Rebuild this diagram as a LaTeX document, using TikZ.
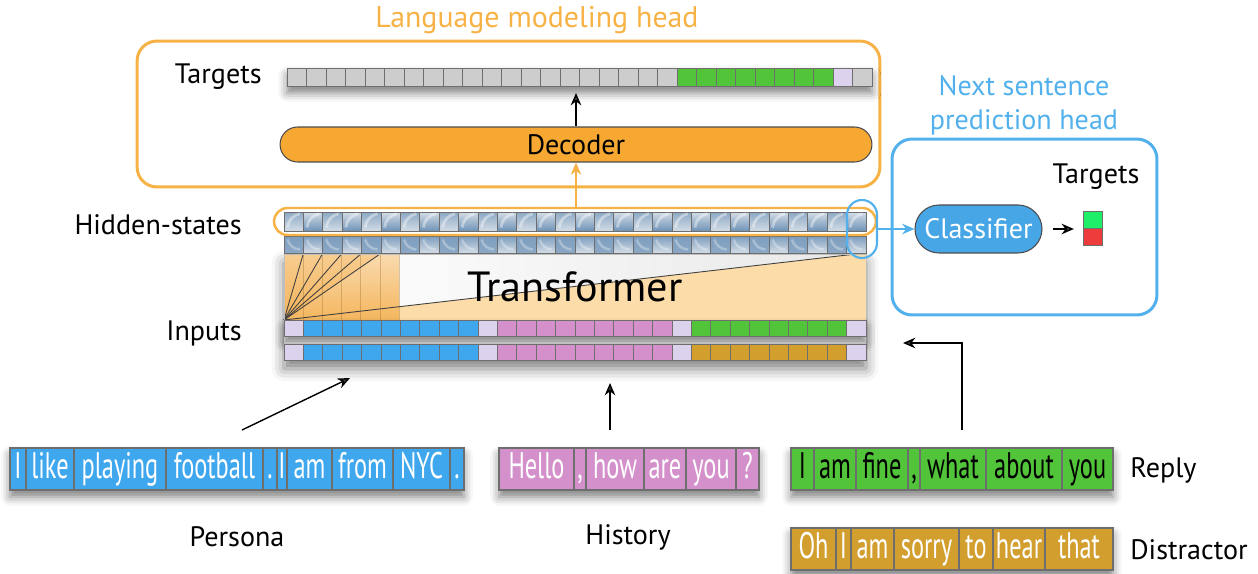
\documentclass[tikz,border=0pt]{standalone}
\usepackage{fontspec}
\setmainfont{PT Sans}
\usetikzlibrary{positioning,arrows.meta,shadows.blur,calc}

\definecolor{lmorange}{HTML}{F6B245}
\definecolor{decorange}{HTML}{F6A833}
\definecolor{nspblue}{HTML}{52B1EC}
\definecolor{clsblue}{HTML}{47A6E6}
\definecolor{tokblue}{HTML}{3FA7EE}
\definecolor{tokpink}{HTML}{D490CB}
\definecolor{tokgreen}{HTML}{52C43A}
\definecolor{tokgold}{HTML}{D29E2E}
\definecolor{toksep}{HTML}{DDD2EE}
\definecolor{tokgray}{HTML}{CDCDCD}
\definecolor{hidblue}{HTML}{6F93B7}
\definecolor{hidlight}{HTML}{D3DCE5}
\definecolor{tfpale}{HTML}{FCDCA8}
\definecolor{tfcol}{HTML}{F3AE4C}
\definecolor{cellline}{HTML}{6E6E6E}
\definecolor{yesgreen}{HTML}{1FEE68}
\definecolor{nored}{HTML}{EE3B3B}

\newcommand\cond[1]{\scalebox{0.66}[1]{#1}}

\tikzset{
  lbl/.style={font=\fontsize{16}{19}\selectfont, inner sep=0pt},
  cell/.style={draw=cellline, line width=0.4pt, inner sep=0pt, outer sep=0pt,
               minimum width=0.388cm, minimum height=#1},
  cell/.default=0.32cm,
  tok/.style={draw=cellline, line width=0.6pt, inner sep=0pt, outer sep=0pt,
              minimum height=0.84cm, text height=15pt, text depth=4.5pt,
              font=\fontsize{21}{21}\selectfont},
  pill/.style={draw=black!70, line width=0.6pt, rounded corners=0.35cm,
               font=\fontsize{16}{19}\selectfont},
  headbox/.style={draw=#1, line width=1.7pt, rounded corners=0.4cm},
  rowshadow/.style={blur shadow={shadow xshift=0pt, shadow yshift=-4pt,
                    shadow blur radius=5pt, shadow opacity=50}},
}

\begin{document}
\begin{tikzpicture}[x=0.02cm, y=-0.02cm, >={Stealth[length=7pt,width=6pt]}]
\useasboundingbox (0,0) rectangle (1258,574);

% language modeling head
\node[headbox=lmorange, minimum width=14.86cm, minimum height=2.92cm] (lmhead) at (508.5,114) {};
\node[lbl, text=lmorange, font=\fontsize{17}{20}\selectfont] (lmtitle) at (537,20) {Language modeling head};

\fill[white, rowshadow] (287,68) rectangle (872,86);
\foreach \i in {0,...,29}{
  \ifnum\i<20 \def\c{tokgray}\else\ifnum\i<28 \def\c{tokgreen}\else\ifnum\i=28 \def\c{toksep}\else\def\c{tokgray}\fi\fi\fi
  \node[cell=0.36cm, minimum width=0.39cm, fill=\c] (t\i) at ({296.75+19.5*\i},77) {};
}
\node[lbl, left=0.5cm of t0] (lmtargets) {Targets};

\node[pill, fill=decorange, minimum width=11.84cm, minimum height=0.7cm] (decoder) at (576,144.5) {Decoder};
\draw[->, line width=0.8pt, shorten >=4pt] (decoder.north) -- (decoder.north |- t0.south);

% next sentence prediction head
\node[headbox=nspblue, minimum width=5.3cm, minimum height=3.52cm] (nsphead) at (1024.5,227) {};
\node[lbl, text=nspblue, align=center, font=\fontsize{16}{19.5}\selectfont] (nsptitle) at (1024,105) {Next sentence\\prediction head};
\node[lbl] (nsptargets) at (1096,177) {Targets};
\node[pill, fill=clsblue, text=white, minimum width=2.54cm, minimum height=0.96cm, rounded corners=0.48cm] (classifier) at (978.5,229) {Classifier};
\node[draw=cellline, fill=yesgreen, minimum width=0.38cm, minimum height=0.34cm, inner sep=0pt] (yes) at (1092.5,219.5) {};
\node[draw=cellline, fill=nored, minimum width=0.38cm, minimum height=0.34cm, inner sep=0pt, below=0pt of yes] (no) {};
\draw[->, line width=0.8pt, shorten <=6pt, shorten >=5pt] (classifier.east) -- (classifier.east -| yes.west);

% transformer block
\fill[white, blur shadow={shadow xshift=0pt, shadow yshift=-5pt, shadow blur radius=7pt, shadow opacity=50}] (284,254) rectangle (866,360);
\shade[left color=white, right color=black!9] (284,254) rectangle (866,320);
\coordinate (fan) at (284,320);
\fill[tfpale] (fan) -- (856,254) -- (866,254) -- (866,320) -- cycle;
\foreach \k in {0,...,5}
  \shade[top color=tfcol!45, bottom color=tfcol!90] ({284+19.2*\k},254) rectangle ({284+19.2*(\k+1)},320);
\fill[tfcol, opacity=.3] (fan) -- (380,254) -- (284,254) -- cycle;
\foreach \k in {1,...,6}
  \draw[tfcol!60!black, opacity=.35] ({284+19.2*\k},254) -- ++(0,66);
\foreach \k in {1,...,5}
  \draw[black!75, line width=0.5pt] (fan) -- ({284+19.2*\k},254);
\draw[black!75, line width=0.5pt] (fan) -- (856,254);
\draw[black!25, line width=0.4pt] (284,254) rectangle (866,320);
\node[font=\fontsize{24}{24}\selectfont] (transformer) at (575,287) {Transformer};

% inputs
\fill[white, rowshadow] (284,320) rectangle (866,336);
\foreach \first/\last/\c in {0/0/toksep, 1/9/tokblue, 10/10/toksep, 11/19/tokpink, 20/20/toksep, 21/28/tokgreen, 29/29/toksep}
  \foreach \i in {\first,...,\last}
    \node[cell, fill=\c] (a\i) at ({293.7+19.4*\i},328) {};
\foreach \first/\last/\c in {0/0/toksep, 1/9/tokblue, 10/10/toksep, 11/19/tokpink, 20/20/toksep, 21/28/tokgold, 29/29/toksep}
  \foreach \i in {\first,...,\last}
    \node[cell, fill=\c] (b\i) at ({293.7+19.4*\i},352) {};
\node[lbl, left=0.84cm of a0, yshift=-3pt] (inlabel) {Inputs};

% hidden states
\foreach \i in {0,...,29}{
  \ifodd\i \def\tc{hidlight}\def\bc{hidblue}\else\def\tc{hidblue!80}\def\bc{hidlight}\fi
  \node[cell=0.38cm, top color=\tc, bottom color=\bc, draw=cellline] (h\i) at ({293.7+19.4*\i},221.5) {};
  \node[cell=0.34cm, top color=hidblue!90, bottom color=\tc, draw=cellline] (g\i) at ({293.7+19.4*\i},244.5) {};
  \draw[white, opacity=.4, line width=1.6pt] ([shift={(2pt,2pt)}]h\i.south west) to[bend left=35] ([shift={(-2pt,-1pt)}]h\i.north east);
  \draw[white, opacity=.3, line width=1.4pt] ([shift={(2pt,-2pt)}]g\i.north west) to[bend right=35] ([shift={(-2pt,2pt)}]g\i.south east);
}
\node[lbl, left=0.84cm of h0, yshift=-2pt] (hidlabel) {Hidden-states};

\node[draw=lmorange, line width=1.4pt, rounded corners=0.27cm, minimum width=12.04cm, minimum height=0.54cm] (hidsel) at (575,221.5) {};
\node[draw=nspblue, line width=1.2pt, rounded corners=0.3cm, minimum width=0.6cm, minimum height=1.16cm] (lastsel) at (862,229) {};

\draw[->, lmorange, line width=1pt] (hidsel.north -| decoder) -- (decoder.south);
\draw[->, nspblue, line width=1pt] (lastsel.east) -- (classifier.west);

% token sequences
\fill[white, rowshadow] (10,448) rectangle (464,490);
\foreach \a/\b/\w [count=\i] in {10/26/I, 26/74/like, 74/166/playing, 166/263/football, 263/277/., 277/287/I, 287/332/am, 332/393/from, 393/450/NYC, 450/464/.}
  \node[tok, fill=tokblue, text=white, minimum width=(\b-\a)*0.02cm] (per\i) at ({(\a+\b)/2},469) {\cond{\w}};
\node[lbl] (persona) at (237,537) {Persona};

\fill[white, rowshadow] (499,448) rectangle (759,490);
\foreach \a/\b/\w [count=\i] in {499/574/Hello, 574/586/{,}, 586/644/how, 644/686/are, 686/736/you, 736/759/?}
  \node[tok, fill=tokpink, text=white, minimum width=(\b-\a)*0.02cm] (his\i) at ({(\a+\b)/2},469) {\cond{\w}};
\node[lbl] (history) at (628,537) {History};

\fill[white, rowshadow] (791,448) rectangle (1113,490);
\foreach \a/\b/\w [count=\i] in {791/814/I, 814/856/am, 856/908/fine, 908/920/{,}, 920/986/what, 986/1062/about, 1062/1113/you}
  \node[tok, fill=tokgreen, text=black, minimum width=(\b-\a)*0.02cm] (rep\i) at ({(\a+\b)/2},469) {\cond{\w}};
\node[lbl, anchor=west] (reply) at (1130,470) {Reply};

\fill[white, rowshadow] (791,528) rectangle (1113,570);
\foreach \a/\b/\w [count=\i] in {791/836/Oh, 836/851/I, 851/894/am, 894/959/sorry, 959/993/to, 993/1045/hear, 1045/1113/that}
  \node[tok, fill=tokgold, text=white, minimum width=(\b-\a)*0.02cm] (dis\i) at ({(\a+\b)/2},549) {\cond{\w}};
\node[lbl, anchor=west] (distractor) at (1130,550) {Distractor};

% feeding the inputs
\coordinate (perfoot) at (242,430);
\coordinate (pertip) at (350,378);
\coordinate (hisfoot) at (610,430);
\coordinate (histip) at (610,383);
\coordinate (repfoot) at (962,430);
\coordinate (reptip) at (903,343);
\draw[->, line width=0.8pt] (perfoot) -- (pertip);
\draw[->, line width=0.8pt] (hisfoot) -- (histip);
\draw[->, line width=0.8pt] (repfoot) |- (reptip);

\end{tikzpicture}
\end{document}
